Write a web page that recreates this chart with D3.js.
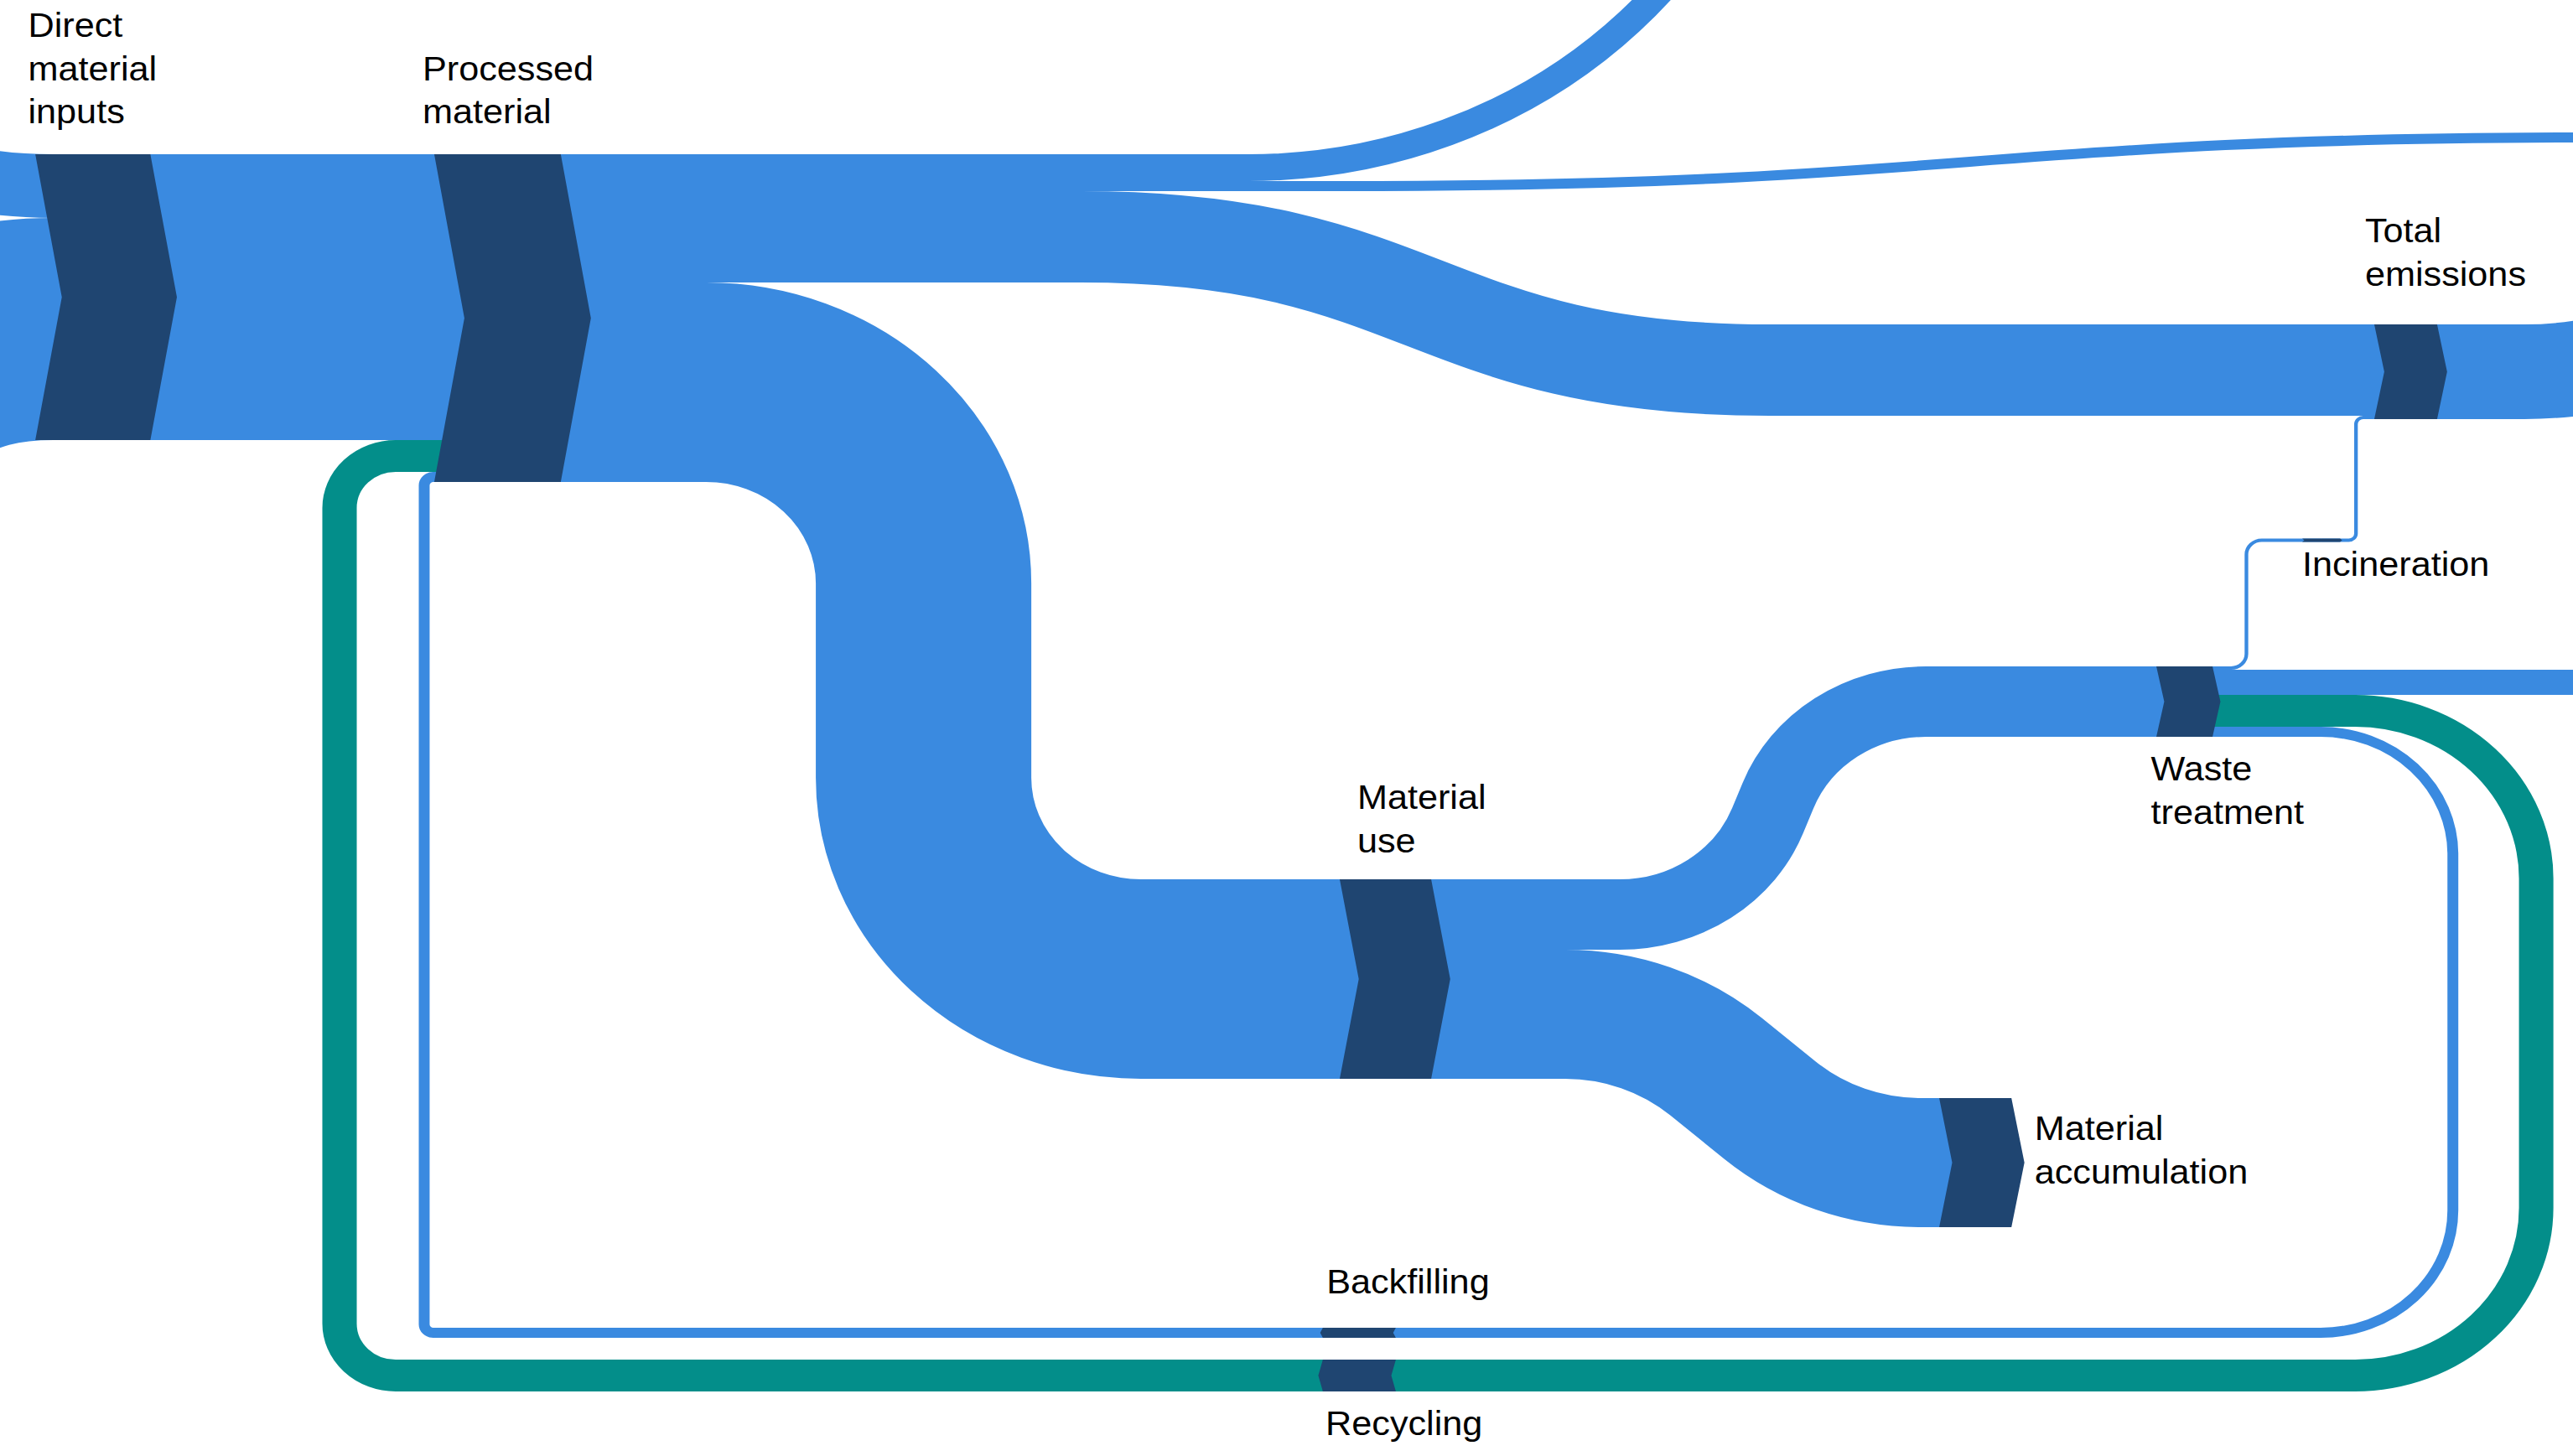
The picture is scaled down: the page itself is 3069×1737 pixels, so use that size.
<!DOCTYPE html>
<html>
<head>
<meta charset="utf-8">
<script src="https://cdn.jsdelivr.net/npm/d3@7"></script>
<style>
  html, body { margin: 0; background: #fff; }
  svg { display: block; }
  text { font-family: "Liberation Sans", Arial, sans-serif; font-size: 40px; fill: #000; }
</style>
</head>
<body>
<svg id="chart"></svg>
<script>
// Material flows, million tonnes
const linkSources = ["Imports", "Domestic extraction", "Direct material inputs", "Recycling", "Backfilling",
  "Processed material", "Processed material", "Processed material", "Processed material",
  "Material use", "Material use",
  "Waste treatment", "Waste treatment", "Waste treatment", "Waste treatment",
  "Incineration", "Total emissions"];
const linkTargets = ["Direct material inputs", "Direct material inputs", "Processed material", "Processed material", "Processed material",
  "Exports", "Balancing items", "Total emissions", "Material use",
  "Waste treatment", "Material accumulation",
  "Incineration", "Landfill", "Recycling", "Backfilling",
  "Total emissions", "Emissions to nature"];
const linkValues = [1520, 5300, 6820, 760, 240,
  640, 240, 2180, 4760,
  1680, 3080,
  80, 600, 760, 240,
  80, 2260];

// Labels of the nodes that are drawn
const nodeLabels = {
  "Direct material inputs": ["Direct", "material", "inputs"],
  "Processed material": ["Processed", "material"],
  "Material use": ["Material", "use"],
  "Material accumulation": ["Material", "accumulation"],
  "Total emissions": ["Total", "emissions"],
  "Waste treatment": ["Waste", "treatment"],
  "Incineration": ["Incineration"],
  "Backfilling": ["Backfilling"],
  "Recycling": ["Recycling"]
};

const width = 3069, height = 1737;
const xStretch = 1.08;   // the drawing is a bit wider than it is tall
const lineGap = 51.7;

const blue = "#3a8ae0", teal = "#038e8a", nodeColor = "#1f4571";

// node placement (drawing units before the horizontal stretch)
const layout = {
  "Direct material inputs": { x: 39, y: 184, label: { x: 31, y: 44 } },
  "Processed material": { x: 479.6, y: 184, label: { x: 466.7, y: 95.7 } },
  "Material use": { x: 1479.6, y: 1049, label: { x: 1499, y: 965 } },
  "Material accumulation": { x: 2141.7, y: 1310, label: { x: 2247, y: 1360 } },
  "Total emissions": { x: 2622.2, y: 387, label: { x: 2612, y: 289 } },
  "Waste treatment": { x: 2381.5, y: 795, label: { x: 2375.5, y: 931 } },
  "Incineration": { x: 2542.6, y: 642.5, label: { x: 2542.6, y: 687 } },
  "Recycling": { x: 1461, y: 1622, w: 80.6, reverse: true, label: { x: 1464, y: 1711.7 } },
  "Backfilling": { x: 1461, y: 1584, w: 80.6, reverse: true, label: { x: 1465, y: 1542.7 } }
};

// how each flow is routed
const routes = {
  "Imports>Direct material inputs": { type: "enter", from: [-230, 172] },
  "Domestic extraction>Direct material inputs": { type: "enter", from: [-230, 462.5] },
  "Direct material inputs>Processed material": { type: "straight" },
  "Recycling>Processed material": { type: "elbow", x: 375, r: 62 },
  "Backfilling>Processed material": { type: "elbow", x: 468.5, r: 10 },
  "Processed material>Exports": { type: "up", x: 1974, r: 595 },
  "Processed material>Balancing items": { type: "sbend", x0: 1481, x1: 2870, y1: 164, end: 3300 },
  "Processed material>Total emissions": { type: "sbend", x0: 1194, x1: 1954 },
  "Processed material>Material use": { type: "elbow", x: 1020, r: 240 },
  "Material use>Waste treatment": { type: "diagonal", xa: 1909, xb: 2007, r: 175 },
  "Material use>Material accumulation": { type: "diagonal", xa: 1823.5, xb: 2026.5, r: 253 },
  "Waste treatment>Incineration": { type: "elbow", x: 2481, r: 17 },
  "Waste treatment>Landfill": { type: "out", end: 3300 },
  "Waste treatment>Recycling": { type: "elbow", x: 2801, r: 200 },
  "Waste treatment>Backfilling": { type: "elbow", x: 2709, r: 146 },
  "Incineration>Total emissions": { type: "elbow", x: 2602, r: 8 },
  "Total emissions>Emissions to nature": { type: "up", x: 3188, r: 400 }
};

const thickness = d3.scaleLinear().domain([0, 1000]).range([0, 50]);

// nodes and links
const nodeMap = new Map();
function getNode(name) {
  if (!nodeMap.has(name)) nodeMap.set(name, { name, inSum: 0, outSum: 0, inOff: 0, outOff: 0 });
  return nodeMap.get(name);
}
const links = linkValues.map((v, i) => ({ source: getNode(linkSources[i]), target: getNode(linkTargets[i]), value: v }));
links.forEach(l => { l.source.outSum += l.value; l.target.inSum += l.value; });

nodeMap.forEach(n => {
  n.value = Math.max(n.inSum, n.outSum);
  const lay = layout[n.name];
  if (!lay) return;
  n.drawn = true;
  n.x = lay.x;
  n.y = lay.y;
  n.h = thickness(n.value);
  n.w = lay.w != null ? lay.w : 40.8 + 0.253 * n.h;
  n.cx = n.x + n.w / 2;
  n.reverse = !!lay.reverse;
});

links.forEach(l => {
  l.w = thickness(l.value);
  if (l.source.drawn) l.sy = l.source.y + thickness(l.source.outOff) + l.w / 2;
  if (l.target.drawn) l.ty = l.target.y + thickness(l.target.inOff) + l.w / 2;
  l.source.outOff += l.value;
  l.target.inOff += l.value;
});

function rounded(p, pts, r) {
  p.moveTo(pts[0][0], pts[0][1]);
  for (let i = 1; i < pts.length - 1; i++) p.arcTo(pts[i][0], pts[i][1], pts[i + 1][0], pts[i + 1][1], r);
  p.lineTo(pts[pts.length - 1][0], pts[pts.length - 1][1]);
}

function linkPath(l) {
  const r = routes[l.source.name + ">" + l.target.name];
  const p = d3.path();
  const sx = l.source.cx, sy = l.sy, tx = l.target.cx, ty = l.ty;
  if (r.type === "straight") {
    p.moveTo(sx, sy); p.lineTo(tx, ty);
  } else if (r.type === "enter") {
    const ex = l.target.x + 20, mx = (r.from[0] + ex) / 2;
    p.moveTo(r.from[0], r.from[1]);
    p.bezierCurveTo(mx, r.from[1], mx, ty, ex, ty);
    p.lineTo(tx, ty);
  } else if (r.type === "sbend") {
    const ey = r.y1 != null ? r.y1 : ty, mx = (r.x0 + r.x1) / 2;
    p.moveTo(sx, sy); p.lineTo(r.x0, sy);
    p.bezierCurveTo(mx, sy, mx, ey, r.x1, ey);
    p.lineTo(r.end != null ? r.end : tx, ey);
  } else if (r.type === "elbow") {
    rounded(p, [[sx, sy], [r.x, sy], [r.x, ty], [tx, ty]], r.r);
  } else if (r.type === "diagonal") {
    rounded(p, [[sx, sy], [r.xa, sy], [r.xb, ty], [tx, ty]], r.r);
  } else if (r.type === "up") {
    rounded(p, [[sx, sy], [r.x, sy], [r.x, -1500]], r.r);
  } else if (r.type === "out") {
    p.moveTo(sx, sy); p.lineTo(r.end, sy);
  }
  return p.toString();
}

function chevron(n) {
  const d = 0.08 * n.h + 2, x0 = n.x, x1 = n.x + n.w, y0 = n.y, y1 = n.y + n.h, ym = (y0 + y1) / 2;
  const pts = n.reverse
    ? [[x0, y0], [x1, y0], [x1 - d, ym], [x1, y1], [x0, y1], [x0 - d, ym]]
    : [[x0, y0], [x1, y0], [x1 + d, ym], [x1, y1], [x0, y1], [x0 + d, ym]];
  return "M" + pts.map(p => p.join(",")).join("L") + "Z";
}

const svg = d3.select("#chart").attr("width", width).attr("height", height);
svg.append("rect").attr("width", width).attr("height", height).attr("fill", "#fff");

const g = svg.append("g").attr("transform", `scale(${xStretch},1)`);

// flows
g.append("g").selectAll("path")
  .data(links)
  .enter()
  .append("path")
  .attr("d", linkPath)
  .attr("fill", "none")
  .attr("stroke", d => (d.source.name === "Recycling" || d.target.name === "Recycling") ? teal : blue)
  .attr("stroke-width", d => d.w);

const drawnNodes = Array.from(nodeMap.values()).filter(n => n.drawn);

// nodes
g.append("g").selectAll("path")
  .data(drawnNodes)
  .enter()
  .append("path")
  .attr("d", chevron)
  .attr("fill", nodeColor);

// labels
const labels = g.append("g").selectAll("text")
  .data(drawnNodes)
  .enter()
  .append("text")
  .attr("x", d => layout[d.name].label.x)
  .attr("y", d => layout[d.name].label.y);

labels.selectAll("tspan")
  .data(d => nodeLabels[d.name].map(t => ({ t, x: layout[d.name].label.x })))
  .enter()
  .append("tspan")
  .attr("x", d => d.x)
  .attr("dy", (d, i) => i === 0 ? 0 : lineGap)
  .text(d => d.t);
</script>
</body>
</html>
